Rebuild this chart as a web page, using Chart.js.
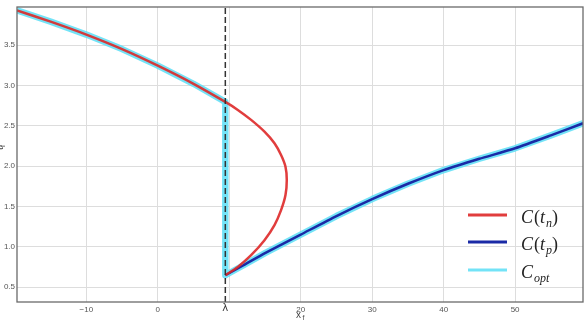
<!DOCTYPE html>
<html lang="en">
<head>
  <meta charset="UTF-8" />
  <title>C(t) vs x_f</title>
  <script src="https://cdn.jsdelivr.net/npm/chart.js"></script>
  <style>
    html, body { margin: 0; padding: 0; background: #fff; }
  </style>
</head>
<body>
  <canvas id="chart" width="586" height="322"></canvas>

  <script>
    // axis range and ticks
    const xMin = -19.7, xMax = 59.5;
    const yMin = 0.314, yMax = 3.972;
    const xTicks = [-10, 0, 10, 20, 30, 40, 50];
    const yTicks = [0.5, 1.0, 1.5, 2.0, 2.5, 3.0, 3.5];
    const lambda = 9.45;

    // upper branch (shared by C(t_n) and C_opt)
    const upperX = [-19.7, -15, -10, -5, 0, 5, 9.45];
    const upperY = [3.93, 3.79, 3.63, 3.45, 3.245, 3.02, 2.795];

    // fold of C(t_n) to the right of lambda
    const foldX = [11.2, 13.06, 14.93, 16.33, 17.25, 17.87, 18.05, 17.87, 17.25, 16.33, 14.93, 13.06, 11.2, 9.45];
    const foldY = [2.696, 2.572, 2.426, 2.282, 2.137, 1.991, 1.826, 1.64, 1.453, 1.267, 1.08, 0.894, 0.749, 0.646];

    // C(t_p)
    const tpX = [9.45, 12, 15, 20, 25, 30, 35, 40, 45, 50, 55, 59.5];
    const tpY = [0.646, 0.77, 0.92, 1.15, 1.38, 1.59, 1.78, 1.95, 2.09, 2.22, 2.38, 2.53];

    const toPts = (xs, ys) => xs.map((x, i) => ({ x: x, y: ys[i] }));

    const tnPts = toPts(upperX.concat(foldX), upperY.concat(foldY));
    const tpPts = toPts(tpX, tpY);
    const optPts = toPts(upperX, upperY).concat(tpPts);

    const RED = 'rgba(222, 40, 40, 0.9)';
    const BLUE = '#1a2aa6';
    const CYAN = 'rgba(100, 224, 246, 0.9)';

    // frame, lambda label, axis titles and the legend
    const decor = {
      id: 'decor',
      afterDraw(chart) {
        const c = chart.ctx;
        const a = chart.chartArea;
        const xs = chart.scales.x;
        c.save();
        c.strokeStyle = '#6a6a6a';
        c.lineWidth = 1.3;
        c.strokeRect(a.left, a.top, a.right - a.left, a.bottom - a.top);

        // lambda tick label
        c.fillStyle = '#333';
        c.font = '10px "DejaVu Sans"';
        c.textAlign = 'center';
        c.textBaseline = 'middle';
        c.fillText('\u03bb', xs.getPixelForValue(lambda), 308);

        // x title
        c.fillStyle = '#444';
        c.font = '10px "Liberation Sans"';
        c.textAlign = 'left';
        c.textBaseline = 'alphabetic';
        c.fillText('x', 296, 318);
        c.font = '7px "Liberation Sans"';
        c.fillText('f', 302.5, 320);

        // y title, mostly cut off at the left edge
        c.save();
        c.translate(3, 150);
        c.rotate(-Math.PI / 2);
        c.font = '10px "Liberation Sans"';
        c.fillStyle = '#444';
        c.fillText('t', 0, 0);
        c.font = '7px "Liberation Sans"';
        c.fillText('f', 3, 2);
        c.restore();

        // legend
        const items = [
          { color: RED, y: 215, parts: [['C', 'i'], ['(', 'n'], ['t', 'i'], ['n', 's'], [')', 'n']] },
          { color: BLUE, y: 242, parts: [['C', 'i'], ['(', 'n'], ['t', 'i'], ['p', 's'], [')', 'n']] },
          { color: CYAN, y: 270, parts: [['C', 'i'], ['opt', 's']] }
        ];
        const fonts = {
          i: 'italic 18px "Liberation Serif"',
          n: '18px "Liberation Serif"',
          s: 'italic 12px "Liberation Serif"'
        };
        items.forEach(it => {
          c.strokeStyle = it.color;
          c.lineWidth = 3;
          c.beginPath();
          c.moveTo(468, it.y);
          c.lineTo(507, it.y);
          c.stroke();
          let x = 521;
          c.fillStyle = '#222';
          it.parts.forEach(p => {
            c.font = fonts[p[1]];
            const dy = p[1] === 's' ? 4 : 0;
            c.fillText(p[0], x, it.y + 8 + dy);
            x += c.measureText(p[0]).width + (p[1] === 'i' ? 1 : 0);
          });
        });
        c.restore();
      }
    };

    const tickFont = { size: 8, family: '"Liberation Sans"' };

    new Chart(document.getElementById('chart'), {
      type: 'scatter',
      data: {
        datasets: [
          {
            label: 'lambda',
            data: [{ x: lambda, y: yMin }, { x: lambda, y: yMax }],
            showLine: true,
            borderColor: '#333',
            borderWidth: 1.5,
            borderDash: [6, 3],
            pointRadius: 0
          },
          {
            label: 'C(t_n)',
            data: tnPts,
            showLine: true,
            borderColor: RED,
            borderWidth: 2.5,
            tension: 0.2,
            pointRadius: 0
          },
          {
            label: 'C(t_p)',
            data: tpPts,
            showLine: true,
            borderColor: BLUE,
            borderWidth: 2.5,
            tension: 0.2,
            pointRadius: 0
          },
          {
            label: 'C_opt',
            data: optPts,
            showLine: true,
            borderColor: CYAN,
            borderWidth: 6.5,
            tension: 0,
            borderJoinStyle: 'round',
            pointRadius: 0
          }
        ]
      },
      options: {
        responsive: false,
        animation: false,
        layout: { padding: { top: 7, right: 3, left: 0, bottom: 0 } },
        plugins: {
          legend: { display: false },
          tooltip: { enabled: false }
        },
        scales: {
          x: {
            type: 'linear',
            min: xMin,
            max: xMax,
            afterBuildTicks: s => { s.ticks = xTicks.map(v => ({ value: v })); },
            afterFit: s => { s.height = 20; },
            grid: { color: '#dddddd', drawTicks: false },
            border: { display: false },
            ticks: {
              padding: 3,
              maxRotation: 0,
              autoSkip: false,
              color: '#555',
              font: tickFont,
              callback: v => v === 10 ? '' : (v < 0 ? '\u2212' + (-v) : String(v))
            }
          },
          y: {
            type: 'linear',
            min: yMin,
            max: yMax,
            afterBuildTicks: s => { s.ticks = yTicks.map(v => ({ value: v })); },
            afterFit: s => { s.width = 17; },
            grid: { color: '#dddddd', drawTicks: false },
            border: { display: false },
            ticks: {
              padding: 2,
              autoSkip: false,
              color: '#555',
              font: tickFont,
              callback: v => v.toFixed(1)
            }
          }
        }
      },
      plugins: [decor]
    });
  </script>
</body>
</html>
